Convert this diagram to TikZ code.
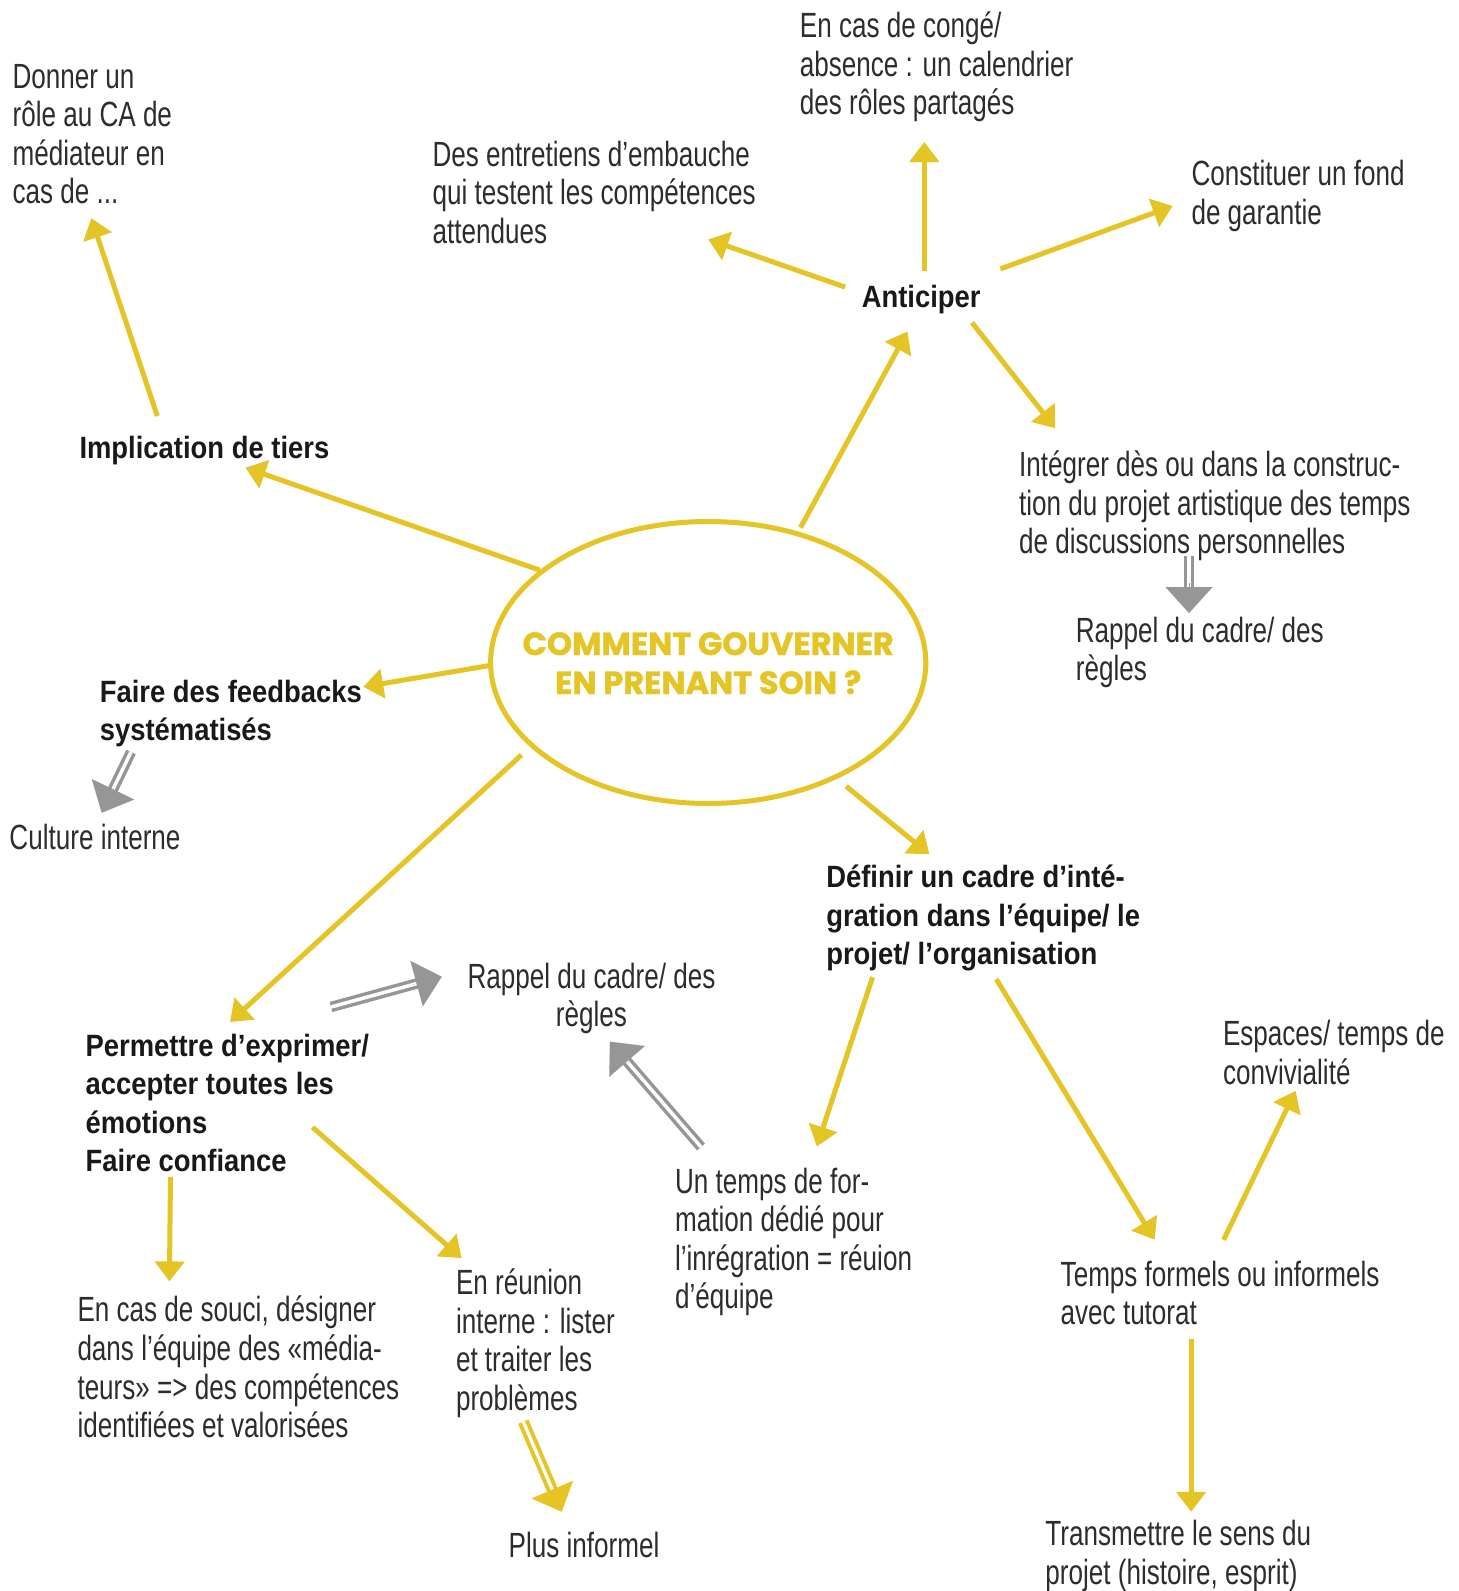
\documentclass[tikz,border=0pt]{standalone}
\usepackage{fontspec}
\usetikzlibrary{arrows.meta,shapes.geometric,calc}
\newfontfamily\regfnt{Liberation Sans}[FakeStretch=0.745]
\newfontfamily\bfnt{Liberation Sans}[FakeStretch=0.89]
\newfontfamily\ttlfnt{Poppins}[BoldFeatures={FakeBold=1.2}]
\definecolor{ayel}{RGB}{229,196,38}
\definecolor{agrey}{RGB}{150,150,150}
\definecolor{atxt}{RGB}{45,45,45}
\definecolor{abtxt}{RGB}{25,25,25}
\begin{document}
\begin{tikzpicture}[x=0.5pt,y=-0.5pt,
  txt/.style={font=\regfnt\fontsize{17.5}{19.3}\selectfont, text=atxt, align=left, inner sep=0pt, anchor=base west},
  btxt/.style={font=\bfnt\bfseries\fontsize{15.4}{19.3}\selectfont, text=abtxt, align=left, inner sep=0pt, anchor=base west},
  ttl/.style={font=\ttlfnt\bfseries\fontsize{16}{19.5}\selectfont, text=ayel, align=center, inner sep=0pt, anchor=base},
  yarr/.style={draw=ayel, line width=2.5pt, -{Triangle[length=10pt,width=14.5pt]}},
  gshaft/.style={draw=agrey, line width=1.75pt, double=white, double distance=1.75pt, shorten >=11pt},
  ghead/.style={draw=agrey, line width=0.05pt, -{Triangle[length=13pt,width=23.5pt]}},
  yshaft/.style={draw=ayel, line width=2pt, double=white, double distance=1.6pt, shorten >=10pt},
  yhead/.style={draw=ayel, line width=0.05pt, -{Triangle[length=12pt,width=22.5pt]}}
]
\fill[white] (0,0) rectangle (1458,1591);
\useasboundingbox (0,0) rectangle (1458,1591);

% text nodes (anchor = baseline of the last line)
\node[txt] (donner) at (12.2,203.8) {Donner un\\rôle au CA de\\médiateur en\\cas de ...};
\node[txt] (conge) at (799.5,114.6) {En cas de congé/\\absence : un calendrier\\des rôles partagés};
\node[txt] (entre) at (432.2,243.4) {Des entretiens d’embauche\\qui testent les compétences\\attendues};
\node[txt] (fond) at (1191.1,224.1) {Constituer un fond\\de garantie};
\node[btxt] (antic) at (861.4,307) {Anticiper};
\node[btxt] (impl) at (79.1,458.4) {Implication de tiers};
\node[txt] (integ) at (1018.7,553.9) {Intégrer dès ou dans la construc-\\tion du projet artistique des temps\\de discussions personnelles};
\node[txt] (rappelA) at (1075.5,680.6) {Rappel du cadre/ des\\règles};
\node[btxt] (feed) at (99.4,740.6) {Faire des feedbacks\\systématisés};
\node[txt] (cult) at (9.1,849) {Culture interne};
\node[btxt] (defin) at (825.9,964.8) {Définir un cadre d’inté-\\gration dans l’équipe/ le\\projet/ l’organisation};
\node[txt, align=center, anchor=base] (rappelB) at (591.5,1026.6) {Rappel du cadre/ des\\règles};
\node[btxt] (perm) at (85.2,1171.8) {Permettre d’exprimer/\\accepter toutes les\\émotions\\Faire confiance};
\node[txt] (espa) at (1222.6,1084.5) {Espaces/ temps de\\convivialité};
\node[txt] (form) at (674.7,1308.8) {Un temps de for-\\mation dédié pour\\l’inrégration = réuion\\d’équipe};
\node[txt] (tuto) at (1060.3,1324.9) {Temps formels ou informels\\avec tutorat};
\node[txt] (souci) at (77.1,1437.6) {En cas de souci, désigner\\dans l’équipe des «média-\\teurs» => des compétences\\identifiées et valorisées};
\node[txt] (reun) at (455.6,1410.3) {En réunion\\interne : lister\\et traiter les\\problèmes};
\node[txt] (plus) at (508.3,1557.2) {Plus informel};
\node[txt] (trans) at (1045,1584) {Transmettre le sens du\\projet (histoire, esprit)};

% centre
\node[ellipse, draw=ayel, line width=2.5pt, minimum width=217.6pt, minimum height=141pt, inner sep=0pt] (ctr) at (708.2,662.5) {};
\node[ttl] (title) at (708.2,694) {COMMENT GOUVERNER\\EN PRENANT SOIN ?};

% connector end points
\coordinate (s1) at (157.3,416);    \coordinate (e1) at (91.3,218.1);
\coordinate (s2) at (845.2,287.1);  \coordinate (e2) at (708.2,239.4);
\coordinate (s3) at (924.3,270.9);  \coordinate (e3) at (924.3,142);
\coordinate (s4) at (1000.4,268.9); \coordinate (e4) at (1172.7,206);
\coordinate (s5) at (972,322.6);    \coordinate (e5) at (1055.2,428.2);
\coordinate (s6) at (800.5,527.6);  \coordinate (e6) at (907.5,331.5);
\coordinate (s7) at (539.8,570.2);  \coordinate (e7) at (245.5,467.7);
\coordinate (s8) at (489,665.6);    \coordinate (e8) at (363.2,686.9);
\coordinate (s9) at (521.5,754.9);  \coordinate (e9) at (230,1022);
\coordinate (s10) at (846.2,786.3); \coordinate (e10) at (929.4,854.3);
\coordinate (s11) at (872.6,977.1); \coordinate (e11) at (816.8,1146.5);
\coordinate (s12) at (996.3,979.1); \coordinate (e12) at (1154.6,1239.8);
\coordinate (s13) at (1223.6,1239.8); \coordinate (e13) at (1295.6,1090.7);
\coordinate (s14) at (1191.1,1339.3); \coordinate (e14) at (1191.1,1511.8);
\coordinate (s15) at (170.5,1176.9); \coordinate (e15) at (169.4,1281.4);
\coordinate (s16) at (312.5,1127.2); \coordinate (e16) at (461.6,1258.1);

\coordinate (g1s) at (1189,556);    \coordinate (g1e) at (1189,613);
\coordinate (g2s) at (131,752);     \coordinate (g2e) at (101.7,812.7);
\coordinate (g3s) at (331,1007);    \coordinate (g3e) at (441.7,976.7);
\coordinate (g4s) at (701,1147);    \coordinate (g4e) at (610,1041.7);
\coordinate (y1s) at (523.3,1421.7); \coordinate (y1e) at (561.7,1511.7);

% yellow arrows
\foreach \i in {1,...,16} {\draw[yarr] (s\i) -- (e\i);}

% grey double arrows
\foreach \i in {1,...,4} {
  \draw[gshaft] (g\i s) -- (g\i e);
  \draw[ghead] ($(g\i e)!15pt!(g\i s)$) -- (g\i e);
}
% yellow double arrow
\draw[yshaft] (y1s) -- (y1e);
\draw[yhead] ($(y1e)!14pt!(y1s)$) -- (y1e);
\end{tikzpicture}
\end{document}
